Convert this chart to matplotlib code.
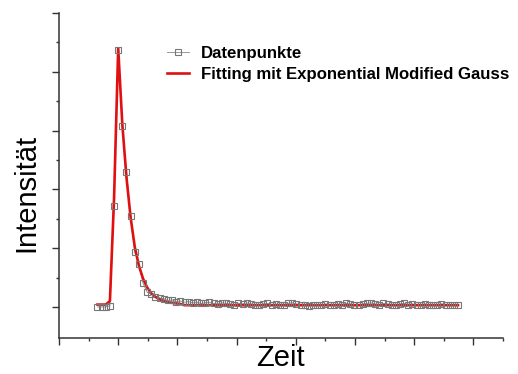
import numpy as np
import matplotlib.pyplot as plt
from matplotlib.lines import Line2D

plt.rcParams['font.family'] = ['Liberation Sans', 'DejaVu Sans']

# time axis (arbitrary units), uniform sampling
t_start = 0.65
t_step = 0.07
n_pts = 88
zeit = t_start + t_step * np.arange(n_pts)

# measured intensity (arbitrary units)
datenpunkte = [0.00, 0.00, 0.00, 0.02, 1.72, 4.37, 3.07, 2.30, 1.55, 0.93,
               0.73, 0.40, 0.25,
               0.22, 0.17, 0.15, 0.14, 0.11, 0.12, 0.09, 0.10, 0.08, 0.09,
               0.07, 0.08, 0.06, 0.07, 0.08, 0.06, 0.05, 0.07,
               0.06, 0.05, 0.04, 0.06, 0.05, 0.07, 0.05, 0.04, 0.03, 0.05,
               0.06, 0.04, 0.05, 0.03, 0.04, 0.06, 0.07, 0.05, 0.04, 0.03,
               0.02, 0.03, 0.04, 0.03, 0.05, 0.04, 0.03, 0.05, 0.04, 0.06,
               0.05, 0.04, 0.03, 0.05, 0.06, 0.07, 0.05, 0.04, 0.06, 0.05,
               0.04, 0.03, 0.05, 0.06, 0.04, 0.05, 0.03, 0.04, 0.05, 0.04,
               0.03, 0.04, 0.05, 0.04, 0.03, 0.04, 0.03]

# exponentially modified gaussian fit
fit = [0.04, 0.04, 0.04, 0.10, 1.85, 4.40, 3.10, 2.20, 1.52, 1.02,
       0.70, 0.48, 0.33, 0.23, 0.17, 0.13, 0.10, 0.08, 0.07, 0.06,
       0.05] + [0.03] * 67

fig = plt.figure(figsize=(5.18, 3.74), dpi=100)
ax = fig.add_axes([59 / 518, 1 - 337.5 / 374, 444 / 518, 324.5 / 374])

ax.plot(zeit, datenpunkte, color='#888888', lw=0.6, zorder=1)
ax.plot(zeit, fit, color='#e01010', lw=1.9, zorder=2)
ax.plot(zeit, datenpunkte, ls='none', marker='s', ms=4.8, mfc='none',
        mec='#777777', mew=0.8, zorder=3)

ax.set_xlim(0, 7.5)
ax.set_ylim(-0.52, 5)
ax.set_xticks(np.arange(0, 7.5, 1))
ax.set_xticks(np.arange(0.5, 7.6, 1), minor=True)
ax.set_yticks(np.arange(0, 5.1, 1))
ax.set_yticks(np.arange(0.5, 4.6, 1), minor=True)
ax.tick_params(which='both', direction='out', labelbottom=False, labelleft=False,
               width=1.0, color='#333333')
ax.tick_params(which='major', length=5)
ax.tick_params(which='minor', length=2.5)
for s in ['top', 'right']:
    ax.spines[s].set_visible(False)
for s in ['left', 'bottom']:
    ax.spines[s].set_linewidth(1.1)
    ax.spines[s].set_color('#333333')

fig.text(26 / 518, 1 - 193 / 374, 'Intensität', rotation=90, ha='center',
         va='center', fontsize=21)
fig.text(280 / 518, 1 - 358 / 374, 'Zeit', ha='center', va='center', fontsize=21)

handles = [Line2D([], [], color='#888888', lw=0.6, marker='s', ms=4.2, mfc='none',
                  mec='#777777', mew=0.8),
           Line2D([], [], color='#e01010', lw=1.9)]
ax.legend(handles, ['Datenpunkte', 'Fitting mit Exponential Modified Gauss'],
          loc='upper left', bbox_to_anchor=(167 / 518, 1 - 46 / 374),
          bbox_transform=fig.transFigure, frameon=False,
          prop={'size': 12.1, 'weight': 'bold'}, handlelength=1.3,
          handletextpad=0.7, labelspacing=0.35, borderpad=0, borderaxespad=0)

fig.savefig('out.png', dpi=100)
